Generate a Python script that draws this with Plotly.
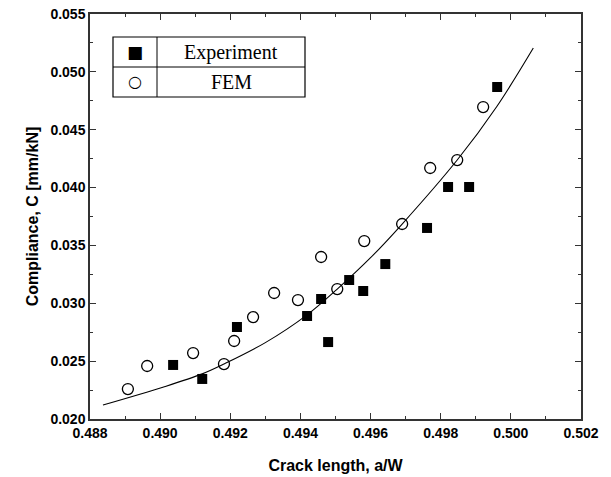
import plotly.graph_objects as go

# Experiment data (filled squares)
exp_x = [0.49037, 0.49120, 0.49219, 0.49419, 0.49459, 0.49479, 0.49539,
         0.49579, 0.49642, 0.49761, 0.49821, 0.49881, 0.49961]
exp_y = [0.02467, 0.02346, 0.02795, 0.02890, 0.03037, 0.02665, 0.03201,
         0.03106, 0.03339, 0.03651, 0.04005, 0.04005, 0.04869]

# FEM data (open circles)
fem_x = [0.48908, 0.48963, 0.49094, 0.49182, 0.49211, 0.49265, 0.49325,
         0.49393, 0.49459, 0.49505, 0.49582, 0.49690, 0.49770, 0.49847, 0.49921]
fem_y = [0.02259, 0.02458, 0.02570, 0.02475, 0.02674, 0.02881, 0.03089,
         0.03028, 0.03400, 0.03123, 0.03538, 0.03685, 0.04169, 0.04238, 0.04696]

# Fitted curve
fit_x = [0.48837, 0.49010, 0.49120, 0.49182, 0.49300, 0.49419, 0.49505,
         0.49600, 0.49690, 0.49847, 0.49960, 0.50064]
fit_y = [0.02121, 0.02277, 0.02390, 0.02475, 0.02660, 0.02900, 0.03123,
         0.03394, 0.03685, 0.04238, 0.04701, 0.05206]

x_ticks = [0.488, 0.490, 0.492, 0.494, 0.496, 0.498, 0.500, 0.502]
y_ticks = [0.020, 0.025, 0.030, 0.035, 0.040, 0.045, 0.050, 0.055]

legend_labels = ["Experiment", "FEM"]

fig = go.Figure()
fig.add_trace(go.Scatter(x=fit_x, y=fit_y, mode="lines",
                         line=dict(color="black", width=1.1, shape="spline", smoothing=1.0),
                         showlegend=False, hoverinfo="skip"))
fig.add_trace(go.Scatter(x=fem_x, y=fem_y, mode="markers", name="FEM",
                         marker=dict(symbol="circle-open", size=11,
                                     color="black", line=dict(width=1.3)),
                         showlegend=False))
fig.add_trace(go.Scatter(x=exp_x, y=exp_y, mode="markers", name="Experiment",
                         marker=dict(symbol="square", size=10, color="black"),
                         showlegend=False))

font_ticks = dict(family="Liberation Sans, Arial", size=14, color="black")
title_font = dict(family="Liberation Sans, Arial", size=16, color="black")
axis_common = dict(
    showline=True, linecolor="#333", linewidth=1.5, mirror="ticks",
    ticks="inside", ticklen=6, tickwidth=1, tickcolor="#333",
    showgrid=False, zeroline=False, tickfont=font_ticks, automargin=False,
    ticklabeloverflow="allow",
)

fig.update_xaxes(range=[0.488, 0.502], tickvals=x_ticks,
                 ticktext=[f"<b>{v:.3f}</b>" for v in x_ticks],
                 minor=dict(ticks="inside", ticklen=3, dtick=0.001, tickcolor="#333"),
                 title=dict(text="<b>Crack length, a/W</b>", font=title_font, standoff=20),
                 **axis_common)
fig.update_yaxes(range=[0.020, 0.055], tickvals=y_ticks,
                 ticktext=[f"<b>{v:.3f}</b>" for v in y_ticks],
                 minor=dict(ticks="inside", ticklen=3, dtick=0.0025, tickcolor="#333"),
                 title=dict(text="<b>Compliance, C [mm/kN]</b>", font=title_font, standoff=8),
                 **axis_common)

# Custom legend box; pixel coords -> paper coords (plot area x 90..581, y 14..419)
W, H = 491.0, 405.0
def px(xp):
    return (xp - 90) / W
def py(yp):
    return 1 - (yp - 14) / H

x0, x1, xm = px(113), px(305), px(157)
y0, y1, ym = py(37), py(97), py(67)
shapes = [
    dict(type="rect", xref="paper", yref="paper", x0=x0, x1=x1, y0=y1, y1=y0,
         line=dict(color="black", width=1.2)),
    dict(type="line", xref="paper", yref="paper", x0=xm, x1=xm, y0=y1, y1=y0,
         line=dict(color="black", width=1)),
    dict(type="line", xref="paper", yref="paper", x0=x0, x1=x1, y0=ym, y1=ym,
         line=dict(color="black", width=1)),
]
annotations = []
symbols = ["■", "○"]
sym_sizes = [17, 16]
for i, lab in enumerate(legend_labels):
    yc = py(52 + 30 * i)
    annotations.append(dict(xref="paper", yref="paper", x=px(135), y=yc,
                            xanchor="center", yanchor="middle",
                            text=symbols[i], showarrow=False,
                            font=dict(family="DejaVu Sans", size=sym_sizes[i], color="black")))
    annotations.append(dict(xref="paper", yref="paper", x=px(231), y=yc,
                            xanchor="center", yanchor="middle",
                            text=lab, showarrow=False,
                            font=dict(family="Liberation Serif, Times New Roman", size=20, color="black")))

fig.update_layout(
    width=611, height=477,
    margin=dict(l=90, r=30, t=14, b=58),
    paper_bgcolor="white", plot_bgcolor="white",
    shapes=shapes, annotations=annotations,
)

fig.write_html("out.html", config={"displayModeBar": False},
               post_script="document.body.style.margin='0';")
